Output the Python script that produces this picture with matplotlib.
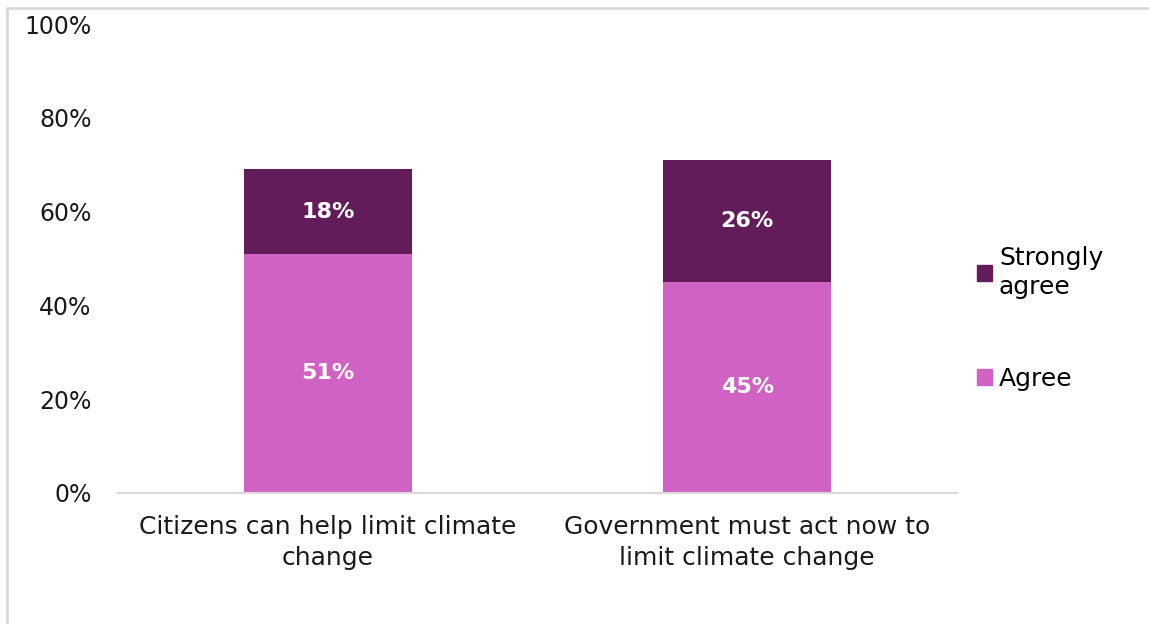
import numpy as np
import matplotlib
matplotlib.use('Agg')
import matplotlib.pyplot as plt
from matplotlib.lines import Line2D
from matplotlib.patches import Patch

categories = ["Citizens can help limit climate\nchange", "Government must act now to\nlimit climate change"]
agree = [51, 45]
strongly_agree = [18, 26]
yticks = [0, 20, 40, 60, 80, 100]
ytick_labels = ["0%", "20%", "40%", "60%", "80%", "100%"]

col_agree = "#D062C4"
col_strong = "#621C5A"

plt.rcParams['font.family'] = ['DejaVu Sans']

fig = plt.figure(figsize=(11.49, 6.24), dpi=100)
ax = fig.add_axes([118/1149, 131/624, 839/1149, 469/624])

x = np.arange(len(categories))
b1 = ax.bar(x, agree, width=0.4, color=col_agree, label="Agree")
b2 = ax.bar(x, strongly_agree, width=0.4, bottom=agree, color=col_strong, label="Strongly\nagree")
ax.bar_label(b1, labels=[f"{v}%" for v in agree], label_type="center",
             color="white", fontsize=16, fontweight="bold")
ax.bar_label(b2, labels=[f"{v}%" for v in strongly_agree], label_type="center",
             color="white", fontsize=16, fontweight="bold")

ax.set_xlim(-0.5, 1.5)
ax.set_ylim(0, 100)
ax.set_yticks(yticks)
ax.set_yticklabels(ytick_labels, fontsize=17, color="#1a1a1a")
ax.set_xticks(x)
ax.set_xticklabels(categories, fontsize=18, color="#1a1a1a", linespacing=1.35)
ax.tick_params(length=0)
ax.tick_params(axis='y', pad=19)
ax.tick_params(axis='x', pad=16)
for s in ["top", "right", "left"]:
    ax.spines[s].set_visible(False)
ax.spines["bottom"].set_color("#D9D9D9")
ax.spines["bottom"].set_linewidth(1.5)

handles = [Patch(color=col_strong), Patch(color=col_agree)]
leg = fig.legend(handles, ["Strongly\nagree", "Agree"], loc="upper left",
                 bbox_to_anchor=(954/1149, 1 - 223/624), frameon=False, fontsize=18,
                 handlelength=0.6, handleheight=0.6, handletextpad=0.3, labelspacing=2.7)
for t in leg.get_texts():
    t.set_linespacing(1.3)

# outer chart border
fig.add_artist(Line2D([7/1149, 7/1149], [0, 1 - 8/624], color="#D9D9D9", lw=2))
fig.add_artist(Line2D([7/1149, 1], [1 - 8/624, 1 - 8/624], color="#D9D9D9", lw=2))

plt.savefig("out.png", dpi=100)
plt.close()
